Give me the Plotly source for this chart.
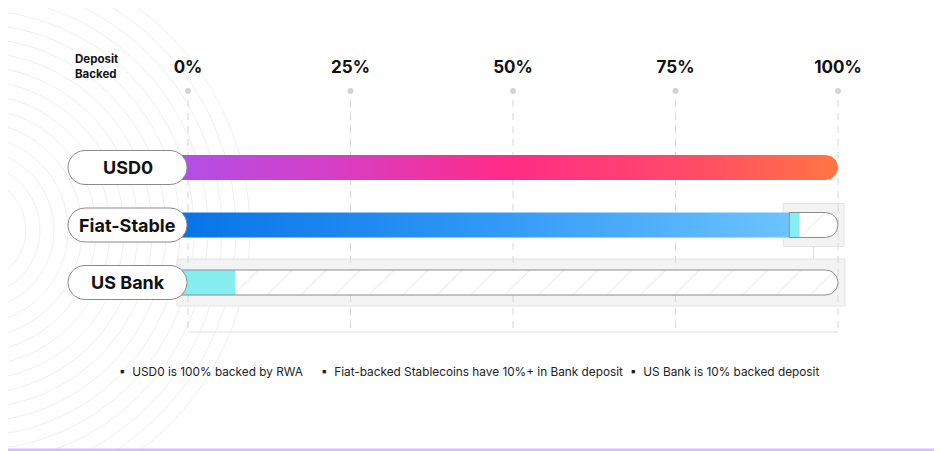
import numpy as np
import plotly.graph_objects as go

# ---------------- data ----------------
categories = ["USD0", "Fiat-Stable", "US Bank"]
primary_backing = [100, 92.5, 0]       # gradient part (%)
bank_deposit = [0, 1.6, 7.3]           # cyan bank-deposit part (%)
tick_values = [0, 25, 50, 75, 100]
tick_labels = ["0%", "25%", "50%", "75%", "100%"]
notes = ["USD0 is 100% backed by RWA",
         "Fiat-backed Stablecoins have 10%+ in Bank deposit",
         "US Bank is 10% backed deposit"]

gradients = {
    "USD0": [[0, "#b050ea"], [0.25, "#d63ec6"], [0.5, "#ff2b88"], [0.78, "#ff4b68"], [1, "#ff7642"]],
    "Fiat-Stable": [[0, "#0672e6"], [0.5, "#2f97f5"], [1, "#6cc3ff"]],
}
CYAN = "#86eef0"
FONT = "Inter"

# ---------------- geometry helpers ----------------
W, H = 942, 451
OFF = 8                    # page offset of the figure (body margin)
TOP = 71                   # top margin (figure px)
PX_X = 6.5                 # px per percent
X0_PX = 188 - OFF          # figure px of 0%
X_RANGE = [-X0_PX / PX_X, -X0_PX / PX_X + W / PX_X]
PX_Y = 57.5                # px between category rows
ROW0_PX = 167.5 - OFF      # figure px of first row
Y_RANGE = [(H - ROW0_PX) / PX_Y, (TOP - ROW0_PX) / PX_Y]


def paper_x(page_px):
    return (page_px - OFF) / W


def paper_y(page_py):
    return (H - (page_py - OFF)) / (H - TOP)


bar_h = 12.5 / PX_Y        # half height of bars (y units)
cap_r = 12.5 / PX_X        # right cap radius (x units)


def rounded_bar(x0, x1, yc, h, rx, left_round=False, n=24):
    t = np.linspace(-np.pi / 2, np.pi / 2, n)
    xs, ys = [], []
    xs += list((x1 - rx) + rx * np.cos(t))
    ys += list(yc + h * np.sin(t))
    if left_round:
        t2 = np.linspace(np.pi / 2, 3 * np.pi / 2, n)
        xs += list((x0 + rx) + rx * np.cos(t2))
        ys += list(yc + h * np.sin(t2))
    else:
        xs += [x0, x0]
        ys += [yc + h, yc - h]
    xs.append(xs[0])
    ys.append(ys[0])
    return xs, ys


fig = go.Figure()

# ---------------- background arcs ----------------
shapes = []
for r in range(52, 290, 14):
    shapes.append(dict(type="circle", xref="paper", yref="paper", layer="below",
                       xsizemode="pixel", ysizemode="pixel",
                       xanchor=paper_x(-26), yanchor=paper_y(230),
                       x0=-r, x1=r, y0=-r, y1=r,
                       line=dict(color="#efefef", width=1)))

# ---------------- gridlines, dots, bracket ----------------
grid_top = (100 - 167.5) / PX_Y
grid_bottom = (332 - 167.5) / PX_Y
dot_y = (91 - 167.5) / PX_Y
for tv in tick_values:
    fig.add_trace(go.Scatter(x=[tv, tv], y=[grid_top, grid_bottom], mode="lines",
                             line=dict(color="#d6d6d6", width=1, dash="7px,6px"),
                             hoverinfo="skip", showlegend=False))
fig.add_trace(go.Scatter(x=tick_values, y=[dot_y] * len(tick_values), mode="markers",
                         marker=dict(color="#d4d4d4", size=6), hoverinfo="skip", showlegend=False))
fig.add_trace(go.Scatter(x=[tick_values[0], tick_values[-1]], y=[grid_bottom, grid_bottom], mode="lines",
                         line=dict(color="#e2e2e2", width=1.2), hoverinfo="skip", showlegend=False))

# ---------------- containers ----------------
fiat_i = categories.index("Fiat-Stable")
bank_i = categories.index("US Bank")
fiat_box_x0 = primary_backing[fiat_i] - 6 / PX_X
fiat_box_x1 = 100 + 6 / PX_X
bank_box_x0 = -11 / PX_X
bank_box_x1 = 100 + 7 / PX_X
fiat_box_h = 21.5 / PX_Y
bank_box_h = 23.5 / PX_Y
shapes.append(dict(type="rect", xref="x", yref="y", layer="below",
                   x0=fiat_box_x0, x1=fiat_box_x1, y0=fiat_i - fiat_box_h, y1=fiat_i + fiat_box_h,
                   fillcolor="#f3f3f3", line=dict(color="#e4e4e4", width=1)))
shapes.append(dict(type="rect", xref="x", yref="y", layer="below",
                   x0=bank_box_x0, x1=bank_box_x1, y0=bank_i - bank_box_h, y1=bank_i + bank_box_h,
                   fillcolor="#f3f3f3", line=dict(color="#e4e4e4", width=1)))
conn_x = (fiat_box_x0 + fiat_box_x1) / 2
shapes.append(dict(type="line", xref="x", yref="y", layer="below",
                   x0=conn_x, x1=conn_x, y0=fiat_i + fiat_box_h, y1=bank_i - bank_box_h,
                   line=dict(color="#e0e0e0", width=1)))

# ---------------- bars ----------------
for i, cat in enumerate(categories):
    total_end = 100
    filled = primary_backing[i]
    dep = bank_deposit[i]
    if filled < 100:
        hx0 = filled if filled > 0 else -2
        xs, ys = rounded_bar(hx0, total_end, i, bar_h, cap_r)
        fig.add_trace(go.Scatter(x=xs, y=ys, mode="lines", fill="toself",
                                 fillcolor="white",
                                 fillpattern=dict(shape="/", fgcolor="#d4d4d4", bgcolor="white",
                                                  size=24, solidity=0.05),
                                 line=dict(color="rgba(0,0,0,0)", width=0),
                                 hoverinfo="skip", showlegend=False))
    if filled > 0:
        if filled >= 100:
            xs, ys = rounded_bar(-3, filled, i, bar_h, cap_r)
        else:
            xs, ys = rounded_bar(-3, filled, i, bar_h, 0.0001, n=2)
        fig.add_trace(go.Scatter(x=xs, y=ys, mode="lines", fill="toself",
                                 fillgradient=dict(type="horizontal", colorscale=gradients[cat]),
                                 line=dict(width=0, color="rgba(0,0,0,0)"),
                                 name=cat, hoverinfo="skip", showlegend=False))
    if dep > 0:
        cx0 = filled if filled > 0 else bank_box_x0 + 1 / PX_X
        cx1 = filled + dep
        fig.add_trace(go.Scatter(x=[cx0, cx1, cx1, cx0, cx0],
                                 y=[i - bar_h, i - bar_h, i + bar_h, i + bar_h, i - bar_h],
                                 mode="lines", fill="toself", fillcolor=CYAN,
                                 line=dict(width=0, color="rgba(0,0,0,0)"),
                                 hoverinfo="skip", showlegend=False))
    if filled < 100:
        ox0 = filled if filled > 0 else bank_box_x0 + 1 / PX_X
        xs, ys = rounded_bar(ox0, total_end, i, bar_h, cap_r)
        fig.add_trace(go.Scatter(x=xs, y=ys, mode="lines",
                                 line=dict(color="#8c8c8c", width=1),
                                 hoverinfo="skip", showlegend=False))

# ---------------- category pills ----------------
pill_x0 = -120 / PX_X
pill_x1 = -1 / PX_X
pill_h = 17 / PX_Y
pill_r = 17 / PX_X
for i, cat in enumerate(categories):
    xs, ys = rounded_bar(pill_x0, pill_x1, i, pill_h, pill_r, left_round=True)
    fig.add_trace(go.Scatter(x=xs, y=ys, mode="lines", fill="toself", fillcolor="white",
                             line=dict(color="#8a8a8a", width=1),
                             hoverinfo="skip", showlegend=False))
    fig.add_annotation(x=(pill_x0 + pill_x1) / 2, y=i, xref="x", yref="y", text=cat,
                       showarrow=False, font=dict(family=FONT, size=18, color="#111111", weight=700))

# ---------------- header label ----------------
fig.add_annotation(x=paper_x(73), y=paper_y(66), xref="paper", yref="paper",
                   text="Deposit<br>Backed", showarrow=False, align="left",
                   xanchor="left", yanchor="middle",
                   font=dict(family=FONT, size=11.5, color="#111111", weight=700))

# ---------------- footnotes ----------------
note_x = [117, 319, 628]
for nx, note in zip(note_x, notes):
    fig.add_annotation(x=paper_x(nx), y=paper_y(372), xref="paper", yref="paper",
                       text="▪  " + note, showarrow=False, xanchor="left", yanchor="middle",
                       font=dict(family=FONT, size=11.8, color="#222222"))

# bottom accent line of card
shapes.append(dict(type="rect", xref="paper", yref="paper", x0=0, x1=1,
                   y0=paper_y(451), y1=paper_y(448.5), line=dict(width=0),
                   fillcolor="#d2bfff", layer="above"))

fig.update_layout(
    width=W, height=H,
    margin=dict(l=0, r=0, t=TOP, b=0),
    paper_bgcolor="white", plot_bgcolor="white",
    shapes=shapes,
    showlegend=False,
    xaxis=dict(range=X_RANGE, side="top", tickvals=tick_values, ticktext=tick_labels,
               showgrid=False, zeroline=False, showline=False, ticks="",
               ticklabelstandoff=2,
               tickfont=dict(family=FONT, size=17, color="#111111", weight=700),
               fixedrange=True),
    yaxis=dict(range=Y_RANGE, showgrid=False, zeroline=False, showline=False,
               showticklabels=False, fixedrange=True),
)

fig.write_html("out.html")
